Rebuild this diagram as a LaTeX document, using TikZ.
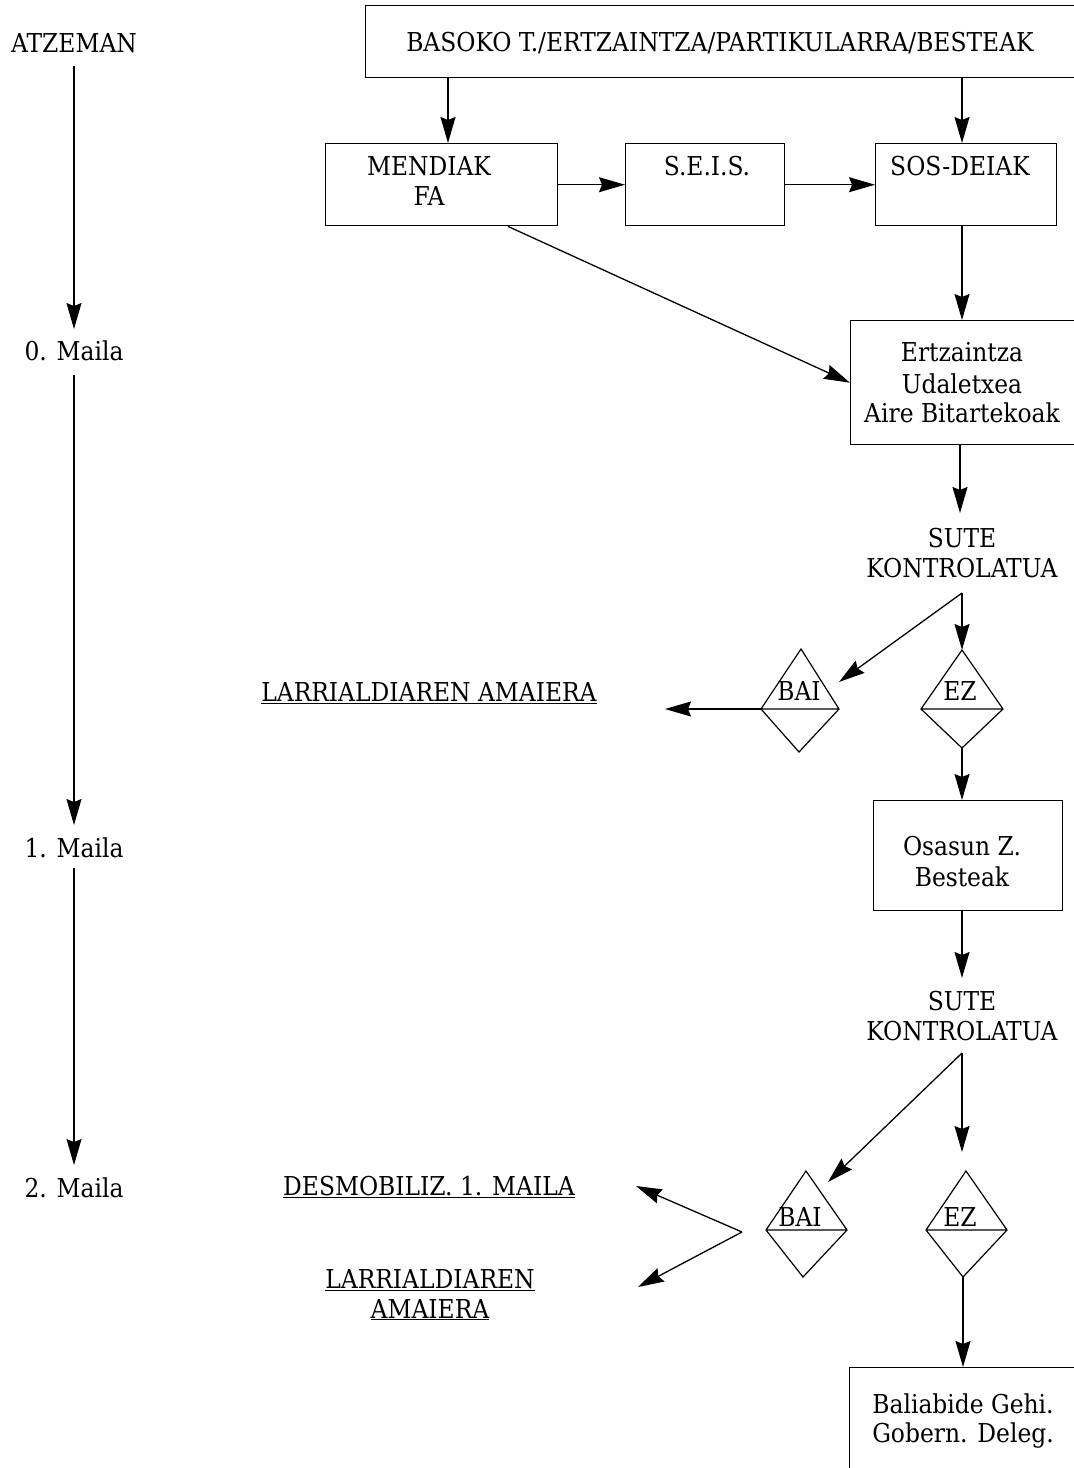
\documentclass[tikz,border=0pt]{standalone}
\usepackage{fontspec}
\IfFontExistsTF{DejaVu Serif Condensed}{\setmainfont{DejaVu Serif Condensed}\def\fsz{26}}{\setmainfont{DejaVu Serif}\def\fsz{24}}
\usetikzlibrary{arrows.meta,calc}
\begin{document}
\begin{tikzpicture}[x=1pt,y=-1pt,
  box/.style={draw, line width=1.4pt, inner sep=0pt, anchor=north west},
  lbl/.style={inner sep=0pt, anchor=base, font=\fontsize{\fsz}{30}\selectfont},
  arr/.style={line width=1.3pt, -{Stealth[length=26pt,width=15pt,inset=3pt]}},
  dia/.style={line width=1.2pt, line join=miter}]
\useasboundingbox (0,0) rectangle (1074,1468);

% boxes
\node[box, minimum width=715pt, minimum height=72pt] (top) at (365,5) {};
\node[box, minimum width=232pt, minimum height=82pt] (mend) at (325,143) {};
\node[box, minimum width=159pt, minimum height=82pt] (seis) at (625,143) {};
\node[box, minimum width=181pt, minimum height=82pt] (sos) at (875,143) {};
\node[box, minimum width=230pt, minimum height=124pt] (ertz) at (850,320) {};
\node[box, minimum width=189pt, minimum height=110pt] (osa) at (873,800) {};
\node[box, minimum width=230pt, minimum height=120pt] (bal) at (849,1367) {};

% labels
\node[lbl] (tatz) at (74,52) {ATZEMAN};
\node[lbl] (t0) at (74,360) {0. Maila};
\node[lbl] (t1) at (74,857) {1. Maila};
\node[lbl] (t2) at (74,1197) {2. Maila};
\node[lbl] (tbas) at (720,51) {BASOKO T./ERTZAINTZA/PARTIKULARRA/BESTEAK};
\node[lbl] (tmen1) at (429,175) {MENDIAK};
\node[lbl] (tmen2) at (429,205) {FA};
\node[lbl] (tseis) at (707,175) {S.E.I.S.};
\node[lbl] (tsos) at (960,175) {SOS-DEIAK};
\node[lbl] (ter1) at (962,361) {Ertzaintza};
\node[lbl] (ter2) at (962,393) {Udaletxea};
\node[lbl] (ter3) at (962,422) {Aire Bitartekoak};
\node[lbl] (tsa1) at (962,547) {SUTE};
\node[lbl] (tsb1) at (962,577) {KONTROLATUA};
\node[lbl] (tbai1) at (799,700) {BAI};
\node[lbl] (tez1) at (960,700) {EZ};
\node[lbl] (tlar1) at (429,701) {\underline{LARRIALDIAREN AMAIERA}};
\node[lbl] (tos1) at (962,855) {Osasun Z.};
\node[lbl] (tos2) at (962,886) {Besteak};
\node[lbl] (tsa2) at (962,1010) {SUTE};
\node[lbl] (tsb2) at (962,1040) {KONTROLATUA};
\node[lbl] (tbai2) at (800,1226) {BAI};
\node[lbl] (tez2) at (960,1226) {EZ};
\node[lbl] (tdes) at (429,1195) {\underline{DESMOBILIZ. 1. MAILA}};
\node[lbl] (tlar2) at (430,1288) {\underline{LARRIALDIAREN}};
\node[lbl] (tama) at (430,1318) {\underline{AMAIERA}};
\node[lbl] (tbal1) at (963,1413) {Baliabide Gehi.};
\node[lbl] (tbal2) at (963,1442) {Gobern. Deleg.};

% diamonds
\coordinate (b1t) at (801,649); \coordinate (b1l) at (761,709);
\coordinate (b1r) at (839,709); \coordinate (b1b) at (799,752);
\coordinate (e1t) at (962,650); \coordinate (e1l) at (921,709);
\coordinate (e1r) at (1003,709); \coordinate (e1b) at (962,748);
\coordinate (b2t) at (806,1171); \coordinate (b2l) at (766,1230);
\coordinate (b2r) at (847,1230); \coordinate (b2b) at (803,1277);
\coordinate (e2t) at (966,1171); \coordinate (e2l) at (926,1230);
\coordinate (e2r) at (1007,1230); \coordinate (e2b) at (963,1277);
\draw[dia] (b1t) -- (b1r) -- (b1b) -- (b1l) -- cycle (b1l) -- (b1r);
\draw[dia] (e1t) -- (e1r) -- (e1b) -- (e1l) -- cycle (e1l) -- (e1r);
\draw[dia] (b2t) -- (b2r) -- (b2b) -- (b2l) -- cycle (b2l) -- (b2r);
\draw[dia] (e2t) -- (e2r) -- (e2b) -- (e2l) -- cycle (e2l) -- (e2r);

% helper coordinates
\coordinate (x448) at (448,0);
\coordinate (x962) at (962,0);
\coordinate (x508) at (508,0);
\coordinate (x960) at (960,0);
\coordinate (s1) at (960,513);
\coordinate (k1) at (962,593);
\coordinate (b1tip) at (839,682);
\coordinate (l1) at (665,709);
\coordinate (s2) at (962,978);
\coordinate (k2) at (962,1053);
\coordinate (e2tip) at (962,1152);
\coordinate (b2tip) at (828,1182);
\coordinate (f) at (742,1232);
\coordinate (fu) at (636,1186);
\coordinate (fd) at (638,1287);

% connectors
\draw[arr, shorten <=13pt, shorten >=11pt] (tatz.south) -- (t0.north);
\draw[arr, shorten <=14pt, shorten >=12pt] (t0.south) -- (t1.north);
\draw[arr, shorten <=10pt, shorten >=12pt] (t1.south) -- (t2.north);
\draw[arr] (top.south -| x448) -- (mend.north -| x448);
\draw[arr] (top.south -| x962) -- (sos.north -| x962);
\draw[arr] (mend.east) -- (seis.west);
\draw[arr] (seis.east) -- (sos.west);
\draw[arr] (mend.south -| x508) -- (ertz.west);
\draw[arr] (sos.south -| x962) -- (ertz.north -| x962);
\draw[arr] (ertz.south -| x960) -- (s1);
\draw[arr] (k1) -- (e1t);
\draw[arr] (k1) -- (b1tip);
\draw[arr] (b1l) -- (l1);
\draw[arr] (e1b) -- (osa.north -| x962);
\draw[arr] (osa.south -| x962) -- (s2);
\draw[arr] (k2) -- (e2tip);
\draw[arr] (k2) -- (b2tip);
\draw[arr] (f) -- (fu);
\draw[arr] (f) -- (fd);
\draw[arr] (e2b) -- (bal.north -| e2b);
\end{tikzpicture}
\end{document}
